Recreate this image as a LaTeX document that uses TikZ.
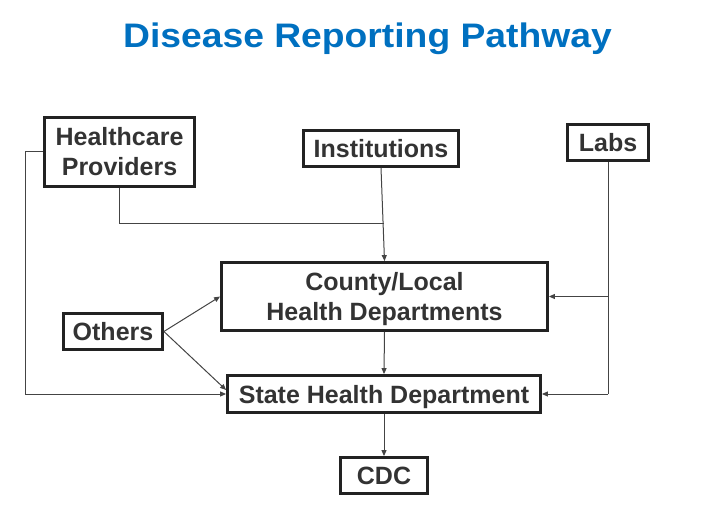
\documentclass[tikz,border=0pt]{standalone}
\usepackage{fontspec}
\setmainfont{Liberation Sans}
\usetikzlibrary{arrows.meta}
\definecolor{titleblue}{HTML}{0070C0}
\definecolor{boxtext}{HTML}{333333}
\definecolor{boxline}{HTML}{222222}
\definecolor{connline}{HTML}{444444}
\tikzset{
  box/.style={draw=boxline, line width=2.8pt, inner sep=0pt, text=boxtext,
    font=\bfseries\fontsize{25}{30}\selectfont, align=center,
    text height=18pt, text depth=0pt},
  box2/.style={box, text height=48pt, text depth=0pt},
  conn/.style={draw=connline, line width=1pt},
  arr/.style={conn, -{Triangle[length=6pt,width=5pt]}},
}
\begin{document}
\begin{tikzpicture}[x=1pt,y=-1pt]
\useasboundingbox (0,0) rectangle (717,510);
\node[anchor=base, text=titleblue, font=\bfseries\fontsize{34}{40}\selectfont] (title) at (367.5,47.3) {\scalebox{1.096}[1]{Disease Reporting Pathway}};
\node[box2, minimum width=150pt, minimum height=69pt] (hp) at (119.5,152) {Healthcare\\Providers};
\node[box, minimum width=155pt, minimum height=36pt] (inst) at (381,148.5) {Institutions};
\node[box, minimum width=81pt, minimum height=36pt] (labs) at (608,142.5) {Labs};
\node[box2, minimum width=326pt, minimum height=68pt] (county) at (384.5,296.5) {County/Local\\Health Departments};
\node[box, minimum width=99pt, minimum height=36pt] (others) at (113,331.5) {Others};
\node[box, minimum width=313pt, minimum height=37pt] (state) at (384,394) {State Health Department};
\node[box, minimum width=87pt, minimum height=36pt] (cdc) at (384,475.5) {CDC};
\coordinate (cL) at (25,394);
\coordinate (j1) at (384,224);
\coordinate (cR) at (608,394);
\coordinate (bR) at (608,296.5);
\draw[arr] (hp.west) -| (cL) -- (state.west);
\draw[conn] (hp.south) |- (j1);
\draw[arr] (inst.south) -- (county.north);
\draw[conn] (labs.south) -- (cR);
\draw[arr] (cR) -- (state.east);
\draw[arr] (bR) -- (county.east);
\draw[arr] (others.east) -- (county.west);
\draw[arr] (others.east) -- ([yshift=4pt]state.west);
\draw[arr] (county.south) -- (state.north);
\draw[arr] (state.south) -- (cdc.north);
\end{tikzpicture}
\end{document}
